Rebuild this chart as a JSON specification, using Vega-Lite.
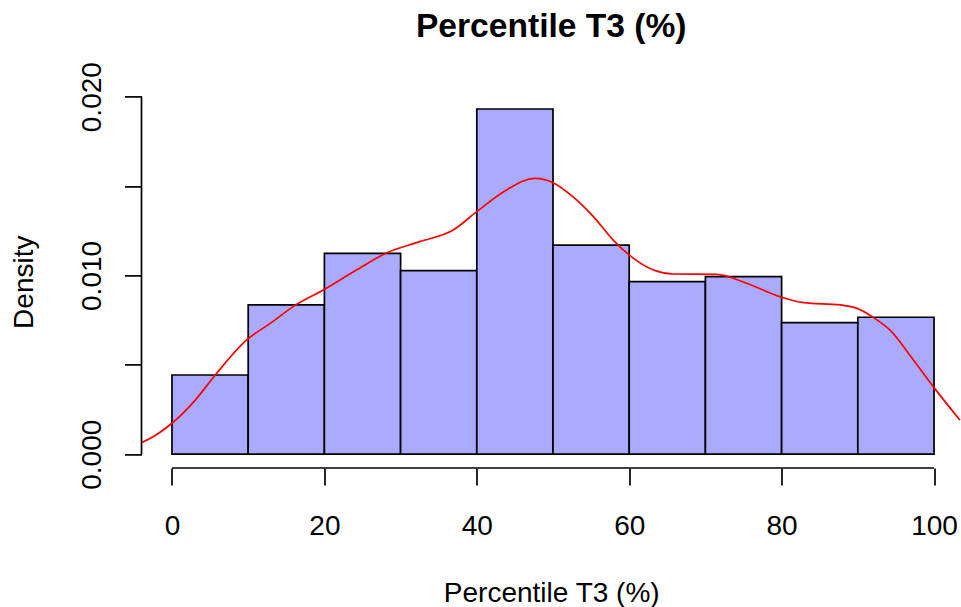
{
  "$schema": "https://vega.github.io/schema/vega-lite/v6.json",
  "autosize": "none",
  "width": 819.5,
  "height": 372.6,
  "padding": {"left": 141.5, "top": 95.4, "right": 0, "bottom": 139},
  "background": "white",
  "config": {"view": {"stroke": null}},
  "title": {"text": "Percentile T3 (%)", "font": "Liberation Sans", "fontSize": 33.6, "fontWeight": "bold", "color": "black", "anchor": "middle", "frame": "group", "baseline": "alphabetic", "offset": -9},
  "datasets": {
    "bins": [
      {"start": 0, "end": 10, "density": 0.00443},
      {"start": 10, "end": 20, "density": 0.00835},
      {"start": 20, "end": 30, "density": 0.01124},
      {"start": 30, "end": 40, "density": 0.01027},
      {"start": 40, "end": 50, "density": 0.01931},
      {"start": 50, "end": 60, "density": 0.0117},
      {"start": 60, "end": 70, "density": 0.00965},
      {"start": 70, "end": 80, "density": 0.00993},
      {"start": 80, "end": 90, "density": 0.00736},
      {"start": 90, "end": 100, "density": 0.00766}
    ],
    "curve": [
      {"x": -4, "d": 0.00064},
      {"x": -2, "d": 0.0011},
      {"x": 0, "d": 0.00173},
      {"x": 3, "d": 0.003},
      {"x": 5.87, "d": 0.00453},
      {"x": 9.8, "d": 0.00639},
      {"x": 12.9, "d": 0.00732},
      {"x": 16.1, "d": 0.00831},
      {"x": 19.86, "d": 0.00919},
      {"x": 24.2, "d": 0.0103},
      {"x": 28.2, "d": 0.01127},
      {"x": 32.5, "d": 0.01189},
      {"x": 36.9, "d": 0.01254},
      {"x": 40.0, "d": 0.01357},
      {"x": 43.9, "d": 0.01478},
      {"x": 47.6, "d": 0.01543},
      {"x": 50.0, "d": 0.01519},
      {"x": 52.6, "d": 0.01441},
      {"x": 55.3, "d": 0.01329},
      {"x": 57.9, "d": 0.01198},
      {"x": 60.1, "d": 0.01111},
      {"x": 63.2, "d": 0.0103},
      {"x": 65.8, "d": 0.01008},
      {"x": 71.5, "d": 0.01006},
      {"x": 75.4, "d": 0.00956},
      {"x": 79.8, "d": 0.00881},
      {"x": 82.9, "d": 0.00848},
      {"x": 87.7, "d": 0.00835},
      {"x": 89.9, "d": 0.00816},
      {"x": 92.0, "d": 0.00766},
      {"x": 94.2, "d": 0.00695},
      {"x": 97.3, "d": 0.00527},
      {"x": 99.9, "d": 0.00378},
      {"x": 103.4, "d": 0.00191}
    ]
  },
  "layer": [
    {
      "data": {"name": "bins"},
      "mark": {"type": "rect", "fill": "#AAAAFF", "stroke": "black", "strokeWidth": 1.7},
      "encoding": {
        "x": {"field": "start", "type": "quantitative", "title": "Percentile T3 (%)",
          "scale": {"domain": [-4, 103.54], "nice": false, "zero": false},
          "axis": {"values": [0, 20, 40, 60, 80, 100], "domain": false, "grid": false, "tickSize": 17, "tickWidth": 1.7, "tickColor": "black",
            "labelFont": "Liberation Sans", "labelFontSize": 28, "labelColor": "black", "labelPadding": 49, "labelBaseline": "alphabetic", "labelFlush": false, "labelOverlap": false,
            "titleFont": "Liberation Sans", "titleFontSize": 28, "titleFontWeight": "normal", "titleColor": "black", "titleBaseline": "alphabetic", "titleY": 133}},
        "x2": {"field": "end"},
        "y": {"field": "density", "type": "quantitative", "title": "Density",
          "scale": {"domain": [-0.000772, 0.020072], "nice": false, "zero": false},
          "axis": {"values": [0, 0.005, 0.01, 0.015, 0.02], "domain": false, "grid": false, "tickSize": 17, "tickWidth": 1.7, "tickColor": "black",
            "labelExpr": "round(datum.value*1000) % 10 == 0 ? format(datum.value, '.3f') : ''",
            "labelAngle": 270, "labelAlign": "center", "labelBaseline": "alphabetic", "labelPadding": 24.5,
            "labelFont": "Liberation Sans", "labelFontSize": 28, "labelColor": "black", "labelFlush": false, "labelOverlap": false,
            "titleFont": "Liberation Sans", "titleFontSize": 28, "titleFontWeight": "normal", "titleColor": "black", "titleAngle": 270, "titleAlign": "center", "titleBaseline": "alphabetic", "titleX": -109.5, "titleY": 186.3}},
        "y2": {"datum": 0}
      }
    },
    {
      "data": {"name": "curve"},
      "mark": {"type": "line", "color": "#FF0000", "strokeWidth": 1.7, "clip": true, "interpolate": "monotone"},
      "encoding": {
        "x": {"field": "x", "type": "quantitative", "title": "Percentile T3 (%)"},
        "y": {"field": "d", "type": "quantitative", "title": "Density"}
      }
    },
    {
      "data": {"values": [{}]},
      "mark": {"type": "rule", "color": "black", "strokeWidth": 1.7},
      "encoding": {
        "x": {"datum": 0, "type": "quantitative"},
        "x2": {"datum": 100},
        "y": {"datum": -0.000772, "type": "quantitative"}
      }
    },
    {
      "data": {"values": [{}]},
      "mark": {"type": "rule", "color": "black", "strokeWidth": 1.7},
      "encoding": {
        "x": {"datum": -4, "type": "quantitative"},
        "y": {"datum": 0, "type": "quantitative"},
        "y2": {"datum": 0.02}
      }
    }
  ]
}
